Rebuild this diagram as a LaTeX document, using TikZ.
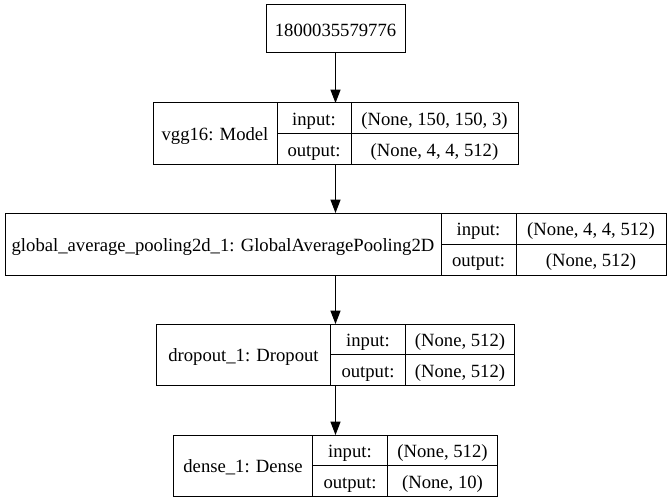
\documentclass[tikz,border=0pt]{standalone}
\usepackage{fontspec}
\setmainfont{Liberation Serif}
\usetikzlibrary{arrows.meta,fit}
\newcommand{\pxu}{0.75pt}
\tikzset{
  cell/.style 2 args={draw=black, line width=\pxu, inner sep=0pt, outer sep=0pt,
    anchor=north west, minimum width=#1*\pxu, minimum height=#2*\pxu,
    text height=11pt, text depth=0pt},
  layer/.style={inner sep=0pt, outer sep=0pt},
  flow/.style={-{Triangle[length=10pt,width=7.5pt]}, line width=\pxu}
}
\begin{document}
\begin{tikzpicture}[x=\pxu,y=-\pxu,font=\fontsize{14}{17}\selectfont]
    \useasboundingbox (0,0) rectangle (671,503);
    % input node
    \node[cell={139}{48}] (inp) at (266,5) {1800035579776};
    % vgg16
    \node[cell={124}{61}] (vggname) at (153,103) {vgg16: Model};
    \node[cell={74}{30.5}] (vggin) at (vggname.north east) {input:};
    \node[cell={74}{30.5}] (vggout) at (vggin.south west) {output:};
    \node[cell={167}{30.5}] (vgginv) at (vggin.north east) {(None, 150, 150, 3)};
    \node[cell={167}{30.5}] (vggoutv) at (vggout.north east) {(None, 4, 4, 512)};
    \node[layer, fit=(vggname)(vggoutv)] (vgg) {};
    % global pooling
    \node[cell={436}{62}] (gapname) at (5,213) {global\_average\_pooling2d\_1: GlobalAveragePooling2D};
    \node[cell={75}{31}] (gapin) at (gapname.north east) {input:};
    \node[cell={75}{31}] (gapout) at (gapin.south west) {output:};
    \node[cell={150}{31}] (gapinv) at (gapin.north east) {(None, 4, 4, 512)};
    \node[cell={150}{31}] (gapoutv) at (gapout.north east) {(None, 512)};
    \node[layer, fit=(gapname)(gapoutv)] (gap) {};
    % dropout
    \node[cell={174}{61}] (dropname) at (156.5,324) {dropout\_1: Dropout};
    \node[cell={75}{30.5}] (dropin) at (dropname.north east) {input:};
    \node[cell={75}{30.5}] (dropout) at (dropin.south west) {output:};
    \node[cell={109}{30.5}] (dropinv) at (dropin.north east) {(None, 512)};
    \node[cell={109}{30.5}] (dropoutv) at (dropout.north east) {(None, 512)};
    \node[layer, fit=(dropname)(dropoutv)] (drop) {};
    % dense
    \node[cell={139}{61}] (densename) at (173.5,435) {dense\_1: Dense};
    \node[cell={75}{30.5}] (densein) at (densename.north east) {input:};
    \node[cell={75}{30.5}] (denseout) at (densein.south west) {output:};
    \node[cell={110}{30.5}] (denseinv) at (densein.north east) {(None, 512)};
    \node[cell={110}{30.5}] (denseoutv) at (denseout.north east) {(None, 10)};
    \node[layer, fit=(densename)(denseoutv)] (dense) {};
    % connectors
    \draw[flow] (inp) -- (vgg);
    \draw[flow] (vgg) -- (gap);
    \draw[flow] (gap) -- (drop);
    \draw[flow] (drop) -- (dense);
\end{tikzpicture}
\end{document}
